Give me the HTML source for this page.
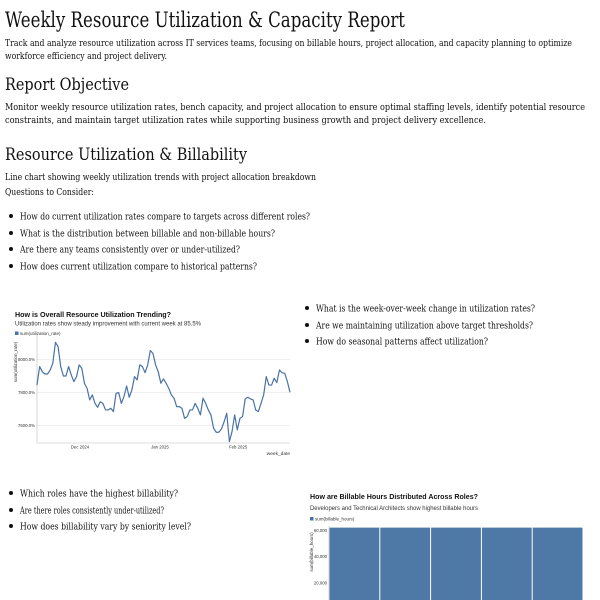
<!DOCTYPE html>
<html><head><meta charset="utf-8"><style>
html,body{margin:0;padding:0;background:#fff;width:600px;height:600px;overflow:hidden}
svg{display:block}
.s{font-family:"DejaVu Serif","Liberation Serif",serif;fill:#111}
.c{font-family:"Liberation Sans",sans-serif}
</style></head><body>
<svg id="page" width="600" height="600" viewBox="0 0 600 600">
<g class="s">
<text x="5" y="27" font-size="21" textLength="400" lengthAdjust="spacingAndGlyphs">Weekly Resource Utilization &amp; Capacity Report</text>
<text x="5" y="46" font-size="9.5" textLength="567" lengthAdjust="spacingAndGlyphs">Track and analyze resource utilization across IT services teams, focusing on billable hours, project allocation, and capacity planning to optimize</text>
<text x="5" y="59" font-size="9.5" textLength="162" lengthAdjust="spacingAndGlyphs">workforce efficiency and project delivery.</text>
<text x="5" y="90" font-size="17" textLength="124" lengthAdjust="spacingAndGlyphs">Report Objective</text>
<text x="5" y="110" font-size="9.5" textLength="580" lengthAdjust="spacingAndGlyphs">Monitor weekly resource utilization rates, bench capacity, and project allocation to ensure optimal staffing levels, identify potential resource</text>
<text x="5" y="123" font-size="9.5" textLength="481" lengthAdjust="spacingAndGlyphs">constraints, and maintain target utilization rates while supporting business growth and project delivery excellence.</text>
<text x="5" y="160" font-size="17" textLength="242" lengthAdjust="spacingAndGlyphs">Resource Utilization &amp; Billability</text>
<text x="5" y="180" font-size="9.5" textLength="311" lengthAdjust="spacingAndGlyphs">Line chart showing weekly utilization trends with project allocation breakdown</text>
<text x="5" y="195" font-size="9.5" textLength="89" lengthAdjust="spacingAndGlyphs">Questions to Consider:</text>
<g>
<circle cx="11" cy="216" r="2"/><text x="20" y="219.5" font-size="9.5" textLength="290" lengthAdjust="spacingAndGlyphs">How do current utilization rates compare to targets across different roles?</text>
<circle cx="11" cy="233" r="2"/><text x="20" y="236.5" font-size="9.5" textLength="255" lengthAdjust="spacingAndGlyphs">What is the distribution between billable and non-billable hours?</text>
<circle cx="11" cy="249" r="2"/><text x="20" y="252.5" font-size="9.5" textLength="220" lengthAdjust="spacingAndGlyphs">Are there any teams consistently over or under-utilized?</text>
<circle cx="11" cy="266" r="2"/><text x="20" y="269.5" font-size="9.5" textLength="237" lengthAdjust="spacingAndGlyphs">How does current utilization compare to historical patterns?</text>
</g>
<g>
<circle cx="307" cy="308" r="2"/><text x="316" y="311.5" font-size="9.5" textLength="219" lengthAdjust="spacingAndGlyphs">What is the week-over-week change in utilization rates?</text>
<circle cx="307" cy="325" r="2"/><text x="316" y="328.5" font-size="9.5" textLength="217" lengthAdjust="spacingAndGlyphs">Are we maintaining utilization above target thresholds?</text>
<circle cx="307" cy="341" r="2"/><text x="316" y="344.5" font-size="9.5" textLength="172" lengthAdjust="spacingAndGlyphs">How do seasonal patterns affect utilization?</text>
</g>
<g>
<circle cx="11" cy="493" r="2"/><text x="20" y="496.5" font-size="9.5" textLength="158" lengthAdjust="spacingAndGlyphs">Which roles have the highest billability?</text>
<circle cx="11" cy="510" r="2"/><text x="20" y="513.5" font-size="9.5" textLength="144" lengthAdjust="spacingAndGlyphs">Are there roles consistently under-utilized?</text>
<circle cx="11" cy="526" r="2"/><text x="20" y="529.5" font-size="9.5" textLength="171" lengthAdjust="spacingAndGlyphs">How does billability vary by seniority level?</text>
</g>
</g>

<g class="c">
<text x="15" y="317" font-size="7.5" font-weight="bold" fill="#111" textLength="156" lengthAdjust="spacingAndGlyphs">How is Overall Resource Utilization Trending?</text>
<text x="15" y="325.5" font-size="6" fill="#333" textLength="186" lengthAdjust="spacingAndGlyphs">Utilization rates show steady improvement with current week at 85.5%</text>
<rect x="15" y="331.5" width="3.5" height="3.5" fill="#4a72a5"/>
<text x="20" y="335" font-size="4.5" fill="#333">sum(utilization_rate)</text>
<text transform="translate(17,362) rotate(-90)" text-anchor="middle" font-size="4.5" fill="#333">sum(utilization_rate)</text>
<g id="lgrid"></g>
<line x1="37" y1="335" x2="37" y2="443" stroke="#bbb" stroke-width="0.6"/>
<line x1="37" y1="443" x2="290" y2="443" stroke="#bbb" stroke-width="0.6"/>
<g id="lxt"></g>
<path id="lpath" fill="none" stroke="#4a72a5" stroke-width="1.2" stroke-linejoin="round"/>
<text x="290" y="455" text-anchor="end" font-size="4.8" fill="#333">week_date</text>
</g>

<g class="c">
<text x="310" y="499" font-size="7.5" font-weight="bold" fill="#111" textLength="168" lengthAdjust="spacingAndGlyphs">How are Billable Hours Distributed Across Roles?</text>
<text x="310" y="510" font-size="6" fill="#333" textLength="168" lengthAdjust="spacingAndGlyphs">Developers and Technical Architects show highest billable hours</text>
<rect x="310" y="517" width="3.5" height="3.5" fill="#4a72a5"/>
<text x="315" y="520.5" font-size="4.5" fill="#333">sum(billable_hours)</text>
<text transform="translate(313,552) rotate(-90)" text-anchor="middle" font-size="4.5" fill="#333">sum(billable_hours)</text>
<g id="bars"></g>
<g id="byt"></g>
<line x1="329" y1="526" x2="329" y2="600" stroke="#bbb" stroke-width="0.6"/>
</g>
</svg>
<script>
const lineValues=[7844,7956,7925,7911,7911,7935,7976,8103,8077,7956,7899,7899,7956,7905,7865,7895,7966,7945,7855,7824,7754,7784,7733,7709,7743,7733,7693,7693,7703,7683,7794,7798,7733,7774,7838,7770,7814,7895,7875,7966,7956,7919,7966,8053,8036,7966,7925,7855,7881,7855,7824,7784,7764,7713,7713,7703,7642,7653,7693,7693,7733,7703,7663,7764,7733,7693,7663,7582,7558,7558,7578,7622,7673,7501,7562,7663,7572,7642,7653,7760,7770,7760,7754,7693,7683,7733,7784,7895,7844,7844,7885,7859,7935,7919,7915,7865,7800];
const lineYTicks=[7600,7800,8000];
const lineYTickLabels=["7600.0%","7800.0%","8000.0%"];
const lineXTickLabels=["Dec 2024","Jan 2025","Feb 2025"];
const lineXTickFrac=[0.17,0.486,0.795];
const barCategories=["Developer","Technical Architect","Project Manager","Business Analyst","QA Engineer"];
const barValues=[62000,62000,62000,62000,62000];
const barYTicks=[20000,40000,60000];
const barYTickLabels=["20,000","40,000","60,000"];
const NS="http://www.w3.org/2000/svg";
function mk(t,a,p){const e=document.createElementNS(NS,t);for(const k in a)e.setAttribute(k,a[k]);p.appendChild(e);return e;}
const lx0=37,lx1=290;
const ly=v=>359.3+(8000-v)*0.165;
const lx=i=>lx0+(lx1-lx0)*i/(lineValues.length-1);
const lg=document.getElementById('lgrid');
lineYTicks.forEach((t,i)=>{
 const l=mk('line',{x1:lx0,x2:lx1,y1:ly(t),y2:ly(t),stroke:'#e6e6e6','stroke-width':0.6},lg);
 
 
 const tx=mk('text',{x:35,y:ly(t)+1.5,'text-anchor':'end','font-size':4.3,fill:'#333'},lg);
 tx.textContent=lineYTickLabels[i];
 
 
});
const lxt=document.getElementById('lxt');
lineXTickLabels.forEach((s,i)=>{
 const x=lx0+(lx1-lx0)*lineXTickFrac[i];
 const tx=mk('text',{x:x,y:448.5,'text-anchor':'middle','font-size':4.3,fill:'#333'},lxt);
 tx.textContent=s;
 
 
});
document.getElementById('lpath').setAttribute('d',lineValues.map((v,i)=>(i?'L':'M')+lx(i).toFixed(2)+','+ly(v).toFixed(2)).join(''));
const bx0=329,bx1=583,bzero=609.3,bs=26.35/20000;
const by=v=>bzero-v*bs;
const bw=(bx1-bx0)/barCategories.length;
const bg=document.getElementById('bars');
barCategories.forEach((c,i)=>{
 const r=mk('rect',{x:bx0+i*bw+0.5,y:by(barValues[i]),width:bw-1,height:bzero-by(barValues[i]),fill:'#4e78a6'},bg);
 
 
});
const byt=document.getElementById('byt');
barYTicks.forEach((t,i)=>{
 const tx=mk('text',{x:327,y:by(t)+1.5,'text-anchor':'end','font-size':4.3,fill:'#333'},byt);
 tx.textContent=barYTickLabels[i];
 
 
});
</script>
</body></html>
